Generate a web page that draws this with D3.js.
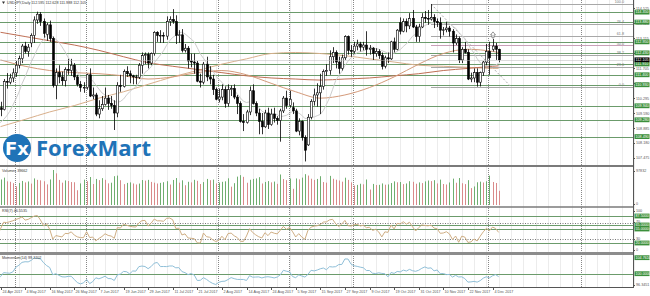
<!DOCTYPE html>
<html>
  <head>
    <script src="https://cdnjs.cloudflare.com/ajax/libs/d3/7.8.5/d3.min.js"></script>
    <style>
      body { margin: 0; background: #fff; }
      svg { display: block; font-family: "Liberation Sans", Arial, sans-serif; }
    </style>
  </head>
  <body>
    <svg id="chart" width="650" height="296"></svg>
    <script>
      // USDJPY daily, 21 Apr 2017 .. 6 Dec 2017 (bar 0 = 21 Apr)
      const opens = [
        109.35, 109.85, 109.76, 111.08, 111.05, 111.25,
        111.49, 111.85, 112.16, 112.75, 112.50,
        112.90, 113.25, 113.98, 114.25, 113.90,
        113.30, 113.75, 113.10, 110.90, 111.50,
        111.30, 111.12, 111.65, 111.60, 111.85,
        111.30, 110.95, 110.80, 110.80, 111.40,
        110.40, 110.45, 109.55, 109.80, 110.00,
        110.30, 110.05, 109.95, 109.60, 110.90,
        110.85, 111.55, 111.45, 111.35, 111.30,
        111.28, 111.85, 112.30, 112.35, 111.95,
        112.40, 113.40, 113.25, 113.25, 113.22,
        113.90, 114.00, 113.90, 113.25, 113.28,
        112.55, 112.65, 112.05, 112.00, 111.95,
        111.10, 111.05, 111.90, 111.30, 111.20,
        110.70, 110.25, 110.35, 110.70, 110.05,
        110.70, 110.75, 110.35, 110.05, 109.20,
        109.15, 109.65, 110.65, 110.05, 109.60,
        109.20, 108.95, 109.60, 109.05, 109.55,
        109.35, 109.25, 109.70, 110.30, 109.95,
        109.85, 109.70, 108.75, 109.20, 108.45,
        108.10, 109.40, 110.15, 110.45, 110.55,
        110.85, 111.55, 111.60, 112.25, 112.45,
        112.00, 111.70, 112.20, 113.20, 112.55,
        112.50, 112.75, 112.85, 112.70, 112.80,
        112.60, 112.65, 112.40, 112.50, 112.30,
        111.80, 112.20, 112.15, 112.95, 112.60,
        113.85, 113.45, 113.90, 113.70, 114.05,
        113.65, 113.20, 113.65, 114.10, 114.05,
        114.02, 114.10, 113.90, 113.85, 113.50,
        113.52, 113.60, 113.45, 112.90, 113.10,
        112.10, 112.60, 112.45, 111.20, 111.25,
        111.50, 111.05, 111.50, 112.00, 112.50,
        112.60, 112.75, 112.595
      ];
      const highs = [
        109.60, 110.13, 111.20, 111.48, 111.45, 111.70,
        112.05, 112.30, 112.85, 112.95, 112.85,
        113.35, 114.15, 114.37, 114.35, 114.05,
        113.85, 113.95, 113.20, 111.70, 111.85,
        111.55, 111.75, 112.15, 112.15, 111.95,
        111.40, 111.10, 111.05, 111.45, 111.70,
        110.80, 110.55, 110.20, 110.40, 110.80,
        110.45, 110.40, 110.20, 111.05, 111.40,
        111.65, 111.80, 111.60, 111.40, 111.40,
        111.95, 112.45, 112.45, 112.45, 112.45,
        113.45, 113.45, 113.50, 113.40, 114.15,
        114.15, 114.49, 114.20, 113.50, 113.55,
        112.85, 112.75, 112.40, 112.40, 112.05,
        111.45, 112.00, 112.25, 111.80, 111.40,
        110.80, 110.75, 110.95, 110.85, 110.95,
        110.90, 110.95, 110.45, 110.15, 109.55,
        109.75, 110.85, 110.95, 110.15, 109.80,
        109.60, 109.75, 109.85, 109.80, 109.85,
        109.45, 109.80, 110.40, 110.65, 110.65,
        110.10, 109.80, 109.35, 109.25, 108.55,
        109.55, 110.25, 110.75, 111.00, 111.45,
        111.65, 111.90, 112.55, 112.70, 112.55,
        112.25, 112.35, 113.26, 113.25, 112.80,
        112.95, 113.05, 112.95, 112.95, 113.45,
        112.80, 112.70, 112.65, 112.60, 112.45,
        112.30, 112.45, 113.00, 113.15, 113.55,
        114.10, 114.05, 114.05, 114.30, 114.45,
        113.75, 113.80, 114.30, 114.40, 114.45,
        114.73, 114.25, 114.05, 114.10, 113.65,
        113.90, 113.70, 113.55, 113.30, 113.20,
        112.70, 112.95, 112.60, 111.50, 111.70,
        111.70, 111.55, 112.05, 112.85, 112.95,
        113.09, 112.90, 112.628
      ];
      const lows = [
        108.85, 109.45, 109.72, 110.75, 110.95, 111.05,
        111.30, 111.70, 111.95, 112.40, 112.25,
        112.70, 112.90, 113.80, 113.70, 113.15,
        113.00, 112.95, 110.80, 110.25, 111.00,
        110.90, 110.85, 111.40, 111.35, 111.15,
        110.85, 110.60, 110.55, 110.70, 110.35,
        110.25, 109.45, 109.35, 109.70, 109.95,
        109.75, 109.80, 108.80, 109.40, 110.60,
        110.80, 111.30, 111.00, 110.95, 110.95,
        111.20, 111.45, 111.90, 111.70, 111.85,
        112.30, 112.95, 112.90, 112.90, 113.05,
        113.70, 113.80, 112.85, 112.90, 112.45,
        112.45, 111.70, 111.75, 111.45, 111.05,
        110.80, 110.95, 111.10, 110.95, 110.45,
        110.20, 110.10, 110.20, 109.85, 109.90,
        110.40, 110.25, 109.55, 109.15, 108.75,
        109.10, 109.50, 110.00, 109.45, 108.60,
        108.60, 108.90, 108.85, 109.00, 109.15,
        109.05, 108.25, 109.60, 109.80, 109.85,
        109.55, 108.70, 108.55, 108.30, 107.32,
        108.05, 109.30, 109.95, 109.90, 109.55,
        110.70, 111.35, 111.40, 111.95, 111.70,
        111.45, 111.60, 112.10, 112.35, 112.25,
        112.40, 112.55, 112.50, 112.55, 112.30,
        112.35, 112.10, 112.25, 112.15, 111.65,
        111.70, 111.95, 112.10, 112.45, 112.55,
        113.30, 113.40, 113.40, 113.55, 113.60,
        112.95, 112.95, 113.60, 113.85, 113.75,
        113.95, 113.60, 113.65, 113.10, 113.25,
        113.40, 113.20, 112.45, 112.80, 111.95,
        111.95, 112.40, 111.15, 111.05, 111.05,
        110.84, 110.85, 111.35, 111.85, 111.40,
        112.50, 112.10, 111.988
      ];
      const closes = [
        109.08, 109.76, 111.08, 111.05, 111.25, 111.49,
        111.85, 112.16, 112.75, 112.50, 112.70,
        113.25, 113.98, 114.25, 113.90, 113.35,
        113.75, 113.10, 110.90, 111.50, 111.30,
        111.12, 111.65, 111.60, 111.85, 111.30,
        110.95, 110.80, 110.80, 111.40, 110.40,
        110.45, 109.55, 109.80, 110.00, 110.30,
        110.05, 109.95, 109.60, 110.90, 110.85,
        111.55, 111.45, 111.35, 111.30, 111.28,
        111.85, 112.30, 112.35, 111.95, 112.40,
        113.40, 113.25, 113.25, 113.22, 113.90,
        114.00, 113.90, 113.25, 113.28, 112.55,
        112.65, 112.05, 112.00, 111.95, 111.10,
        111.05, 111.90, 111.30, 111.20, 110.70,
        110.25, 110.35, 110.70, 110.05, 110.70,
        110.75, 110.35, 110.05, 109.20, 109.15,
        109.65, 110.65, 110.05, 109.60, 109.20,
        108.95, 109.60, 109.05, 109.55, 109.35,
        109.25, 109.70, 110.30, 109.95, 110.25,
        109.70, 108.75, 109.20, 108.45, 107.85,
        109.40, 110.15, 110.45, 110.55, 110.85,
        111.55, 111.60, 112.25, 112.45, 112.00,
        111.70, 112.20, 113.20, 112.55, 112.50,
        112.75, 112.85, 112.70, 112.80, 112.60,
        112.65, 112.40, 112.50, 112.30, 111.80,
        112.20, 112.15, 112.95, 112.60, 113.50,
        113.45, 113.90, 113.70, 114.05, 113.65,
        113.20, 113.65, 114.10, 114.05, 114.02,
        114.10, 113.90, 113.85, 113.50, 113.52,
        113.60, 113.45, 112.90, 113.10, 112.10,
        112.60, 112.45, 111.20, 111.25, 111.50,
        111.05, 111.50, 112.00, 112.50, 112.20,
        112.75, 112.60, 112.105
      ];
      // closes before 21 Apr, only used to warm up the indicators
      const priorCloses = [
        110.64, 111.24, 111.05, 111.96, 111.39, 110.87, 110.72, 110.73,
        110.80, 111.09, 110.92, 109.73, 109.40, 109.08, 108.64, 108.88,
        108.93, 108.80, 109.30
      ];
      const volumes = [
        58210, 71340, 76520, 66210, 64880, 60930,
        52140, 61380, 67250, 63120, 65740,
        59870, 74310, 70250, 68940, 66380,
        57620, 71480, 97832, 88460, 70120,
        62410, 68750, 66980, 64120, 63580,
        41250, 60320, 70840, 66510, 78230,
        58630, 72840, 69510, 75120, 70380,
        60470, 62310, 80540, 82160, 69240,
        58320, 61780, 63240, 60150, 57390,
        59880, 69740, 68120, 70230, 64510,
        62390, 60140, 61850, 63720, 66490,
        57210, 69980, 75360, 62480, 68970,
        55230, 64880, 63150, 70420, 67530,
        58760, 63990, 72840, 69350, 71020,
        60310, 62570, 64820, 66170, 74630,
        51240, 60980, 79310, 83420, 78650,
        62180, 70450, 72960, 74230, 77810,
        60120, 64380, 66830, 63270, 65490,
        59140, 85320, 72510, 69480, 73960,
        45320, 74280, 71690, 76540, 86210,
        82310, 73450, 70160, 72840, 80520,
        64130, 62470, 81380, 73290, 70640,
        68420, 65230, 76310, 70150, 63280,
        54360, 56180, 59420, 57830, 71260,
        43210, 58960, 55740, 56380, 60290,
        56720, 57480, 61350, 66120, 63480,
        64210, 58390, 60170, 66540, 64820,
        59460, 63180, 61270, 65930, 68410,
        66820, 69350, 60240, 70960, 58730,
        57310, 62940, 73680, 62150, 75420,
        60850, 58420, 69370, 47250, 51830,
        63480, 65210, 62940, 66280, 82150,
        64310, 61580, 39662
      ];

      // slow moving averages, one value every 8 bars (bars 1, 9, ... 161, 163)
      const maBars = [1, 9, 17, 25, 33, 41, 49, 57, 65, 73, 81, 89, 97, 105, 113, 121, 129, 137, 145, 153, 161, 163];
      const ma200 = [108.96, 109.3, 109.65, 109.95, 110.3, 110.6, 110.95, 111.3, 111.6, 111.9, 112.15, 112.4, 112.45, 112.4, 112.3, 112.15, 112.0, 111.85, 111.8, 111.75, 111.7, 111.7];
      const ma100 = [113.4, 113.2, 113.0, 112.8, 112.55, 112.25, 111.97, 111.8, 111.65, 111.5, 111.35, 111.25, 111.2, 111.15, 111.2, 111.25, 111.35, 111.45, 111.6, 111.7, 111.8, 111.82];
      const ma50 = [112.1, 111.8, 111.6, 111.5, 111.45, 111.35, 111.2, 111.3, 111.5, 111.6, 111.4, 111.0, 110.6, 110.3, 110.45, 110.8, 111.3, 111.9, 112.4, 112.6, 112.5, 112.45];
      const fastPeriod = 10;

      // horizontal support / resistance lines
      const levels = [114.35, 113.88, 112.95, 112.43, 111.91, 111.40, 110.93, 109.94, 109.28, 108.49];
      const fibHigh = { bar: 141, price: 114.73 };
      const fibLow = { bar: 167, price: 110.84 };
      const fibRatios = [0, 23.6, 38.2, 50.0, 61.8, 76.4, 100.0];

      const priceTicks = [107.475, 108.18, 108.885, 109.59, 110.295, 111.0, 111.705, 112.41, 113.115, 113.82, 114.525];
      const rsiLevels = [87.5, 65.0, 55.0, 20.0];
      const momLevel = 100.0;
      const dateLabels = [
        "24 Apr 2017", "4 May 2017", "16 May 2017", "26 May 2017", "7 Jun 2017",
        "19 Jun 2017", "29 Jun 2017", "11 Jul 2017", "21 Jul 2017", "2 Aug 2017",
        "14 Aug 2017", "24 Aug 2017", "5 Sep 2017", "15 Sep 2017", "27 Sep 2017",
        "9 Oct 2017", "19 Oct 2017", "31 Oct 2017", "10 Nov 2017", "22 Nov 2017",
        "4 Dec 2017"
      ];
      // dotted vertical separators (bar index)
      const sepBars = [6, 29, 72, 95, 116, 160, 190];

      const rsiPeriod = 7;
      const momPeriod = 14;

      const svg = d3.select("#chart");
      const plotR = 633;
      const green = "#6b9b6b";
      const axisText = "#555";
      const fs = 3.7;

      const x = d3.scaleLinear().domain([1, 161]).range([0.5, 492.5]);
      const yP = d3.scaleLinear().domain([107.2, 114.92]).range([164, 0]);
      const yV = d3.scaleLinear().domain([0, 97832]).range([205, 170]);
      const yR = d3.scaleLinear().domain([0, 100]).range([251, 211]);

      // indicators computed from the closes
      const allCloses = priorCloses.concat(closes);
      const off = priorCloses.length;
      const rsi = [];
      let ag = 0, al = 0;
      for (let k = 1; k < allCloses.length; k++) {
        const ch = allCloses[k] - allCloses[k - 1];
        const g = Math.max(ch, 0), l = Math.max(-ch, 0);
        if (k <= rsiPeriod) { ag += g / rsiPeriod; al += l / rsiPeriod; }
        else { ag = (ag * (rsiPeriod - 1) + g) / rsiPeriod; al = (al * (rsiPeriod - 1) + l) / rsiPeriod; }
        if (k - off >= 0) rsi[k - off] = al === 0 ? 100 : 100 - 100 / (1 + ag / al);
      }
      const mom = closes.map((c, i) => (c / allCloses[i + off - momPeriod]) * 100);
      const smaFast = closes.map((c, i) => d3.mean(allCloses.slice(i + off - fastPeriod + 1, i + off + 1)));
      const momMin = 96.3451;
      const momMax = d3.max(mom.slice(1)) + 0.2;
      const yM = d3.scaleLinear().domain([momMin, momMax]).range([286, 257]);

      const defs = svg.append("defs");
      const clip = (id, y0, y1) =>
        defs.append("clipPath").attr("id", id).append("rect")
          .attr("x", 0).attr("y", y0).attr("width", plotR).attr("height", y1 - y0);
      clip("cMain", 0, 165);
      clip("cVol", 168, 206);
      clip("cRsi", 208, 252);
      clip("cMom", 255, 287);

      // light vertical grid
      const grid = svg.append("g");
      grid.selectAll("line.g")
        .data(d3.range(-1, 210, 4))
        .enter().append("line")
        .attr("x1", (d) => Math.round(x(d)) + 0.5).attr("x2", (d) => Math.round(x(d)) + 0.5)
        .attr("y1", 0).attr("y2", 287)
        .attr("stroke", "#ececec").attr("stroke-width", 1);

      grid.selectAll("line.m")
        .data(sepBars)
        .enter().append("line")
        .attr("x1", (d) => Math.round(x(d)) - 0.5).attr("x2", (d) => Math.round(x(d)) - 0.5)
        .attr("y1", 0).attr("y2", 287)
        .attr("stroke", "#888").attr("stroke-dasharray", "1,1");

      // ---- main panel ----
      const main = svg.append("g").attr("clip-path", "url(#cMain)");

      main.selectAll("line.lvl")
        .data(levels)
        .enter().append("line")
        .attr("x1", 0).attr("x2", plotR)
        .attr("y1", (d) => Math.round(yP(d)) + 0.5).attr("y2", (d) => Math.round(yP(d)) + 0.5)
        .attr("stroke", green).attr("stroke-width", 1);

      // fibonacci
      const fibPrice = (r) => fibLow.price + (fibHigh.price - fibLow.price) * r / 100;
      main.selectAll("line.fib")
        .data(fibRatios)
        .enter().append("line")
        .attr("x1", x(fibHigh.bar)).attr("x2", plotR)
        .attr("y1", (d) => Math.round(yP(fibPrice(d))) + 0.5).attr("y2", (d) => Math.round(yP(fibPrice(d))) + 0.5)
        .attr("stroke", (d) => (d === 50 ? "#c9a0b8" : "#a8a8a8")).attr("stroke-width", 1);
      main.selectAll("text.fib")
        .data(fibRatios)
        .enter().append("text")
        .attr("x", 624).attr("y", (d) => yP(fibPrice(d)) - 0.8)
        .attr("text-anchor", "end").attr("font-size", fs).attr("fill", "#777")
        .text((d) => d.toFixed(1));
      main.append("line")
        .attr("x1", x(fibHigh.bar)).attr("y1", yP(fibHigh.price))
        .attr("x2", x(fibLow.bar)).attr("y2", yP(fibLow.price))
        .attr("stroke", "#aaa").attr("stroke-dasharray", "2,2");

      // moving averages
      const maLine = d3.line().x((d) => x(d[0])).y((d) => yP(d[1])).curve(d3.curveMonotoneX);
      [[ma200, "#d9b08c"], [ma100, "#bf6f55"], [ma50, "#d49a7a"]].forEach(([vals, col]) => {
        main.append("path")
          .attr("d", maLine(maBars.map((b, k) => [b, vals[k]])))
          .attr("fill", "none").attr("stroke", col).attr("stroke-width", 1);
      });
      main.append("path")
        .attr("d", d3.line().x((d, i) => x(i)).y((d) => yP(d))(smaFast))
        .attr("fill", "none").attr("stroke", "#cdcdcd").attr("stroke-width", 1);

      // candles
      const bars = d3.range(closes.length);
      const cg = main.append("g");
      cg.selectAll("line.wick")
        .data(bars)
        .enter().append("line")
        .attr("x1", (i) => Math.round(x(i)) + 0.5).attr("x2", (i) => Math.round(x(i)) + 0.5)
        .attr("y1", (i) => yP(highs[i])).attr("y2", (i) => yP(lows[i]))
        .attr("stroke", "#000").attr("stroke-width", 0.8);
      cg.selectAll("rect.body")
        .data(bars)
        .enter().append("rect")
        .attr("x", (i) => Math.round(x(i)) - 0.5)
        .attr("width", 2)
        .attr("y", (i) => yP(Math.max(opens[i], closes[i])))
        .attr("height", (i) => Math.max(0.6, Math.abs(yP(opens[i]) - yP(closes[i]))))
        .attr("fill", (i) => (closes[i] >= opens[i] ? "#fff" : "#000"))
        .attr("stroke", "#000").attr("stroke-width", 0.6);

      // fractal arrow above 4 Dec
      main.append("path")
        .attr("d", `M${x(161) + 0.5},${yP(highs[161]) - 7} l-2.5,3 h1.5 v3 h2 v-3 h1.5 z`)
        .attr("fill", "#fff").attr("stroke", "#555").attr("stroke-width", 0.6);

      // current price line
      main.append("line")
        .attr("x1", 0).attr("x2", plotR)
        .attr("y1", Math.round(yP(closes[closes.length - 1])) + 0.5)
        .attr("y2", Math.round(yP(closes[closes.length - 1])) + 0.5)
        .attr("stroke", "#bbb").attr("stroke-width", 0.5);

      // ---- volumes ----
      svg.append("g").attr("clip-path", "url(#cVol)")
        .selectAll("line")
        .data(bars)
        .enter().append("line")
        .attr("x1", (i) => Math.round(x(i)) + 0.5).attr("x2", (i) => Math.round(x(i)) + 0.5)
        .attr("y1", yV(0)).attr("y2", (i) => yV(volumes[i]))
        .attr("stroke", (i) => (i > 0 && volumes[i] < volumes[i - 1] ? "#d98a8a" : "#6fae6f"))
        .attr("stroke-width", 1);

      // ---- RSI ----
      const rg = svg.append("g").attr("clip-path", "url(#cRsi)");
      rg.selectAll("line.lv")
        .data(rsiLevels)
        .enter().append("line")
        .attr("x1", 0).attr("x2", plotR)
        .attr("y1", (d) => Math.round(yR(d)) + 0.5).attr("y2", (d) => Math.round(yR(d)) + 0.5)
        .attr("stroke", green);
      rg.selectAll("line.dl")
        .data([70, 30])
        .enter().append("line")
        .attr("x1", 0).attr("x2", plotR)
        .attr("y1", (d) => Math.round(yR(d)) + 0.5).attr("y2", (d) => Math.round(yR(d)) + 0.5)
        .attr("stroke", "#777").attr("stroke-dasharray", "1,1.5");
      rg.append("path")
        .attr("d", d3.line().x((d, i) => x(i)).y((d) => yR(d))(rsi))
        .attr("fill", "none").attr("stroke", "#cfae84").attr("stroke-width", 1);

      // ---- Momentum ----
      const mg = svg.append("g").attr("clip-path", "url(#cMom)");
      mg.append("line")
        .attr("x1", 0).attr("x2", plotR)
        .attr("y1", Math.round(yM(momLevel)) + 0.5).attr("y2", Math.round(yM(momLevel)) + 0.5)
        .attr("stroke", green);
      mg.append("path")
        .attr("d", d3.line().x((d, i) => x(i)).y((d) => yM(d))(mom))
        .attr("fill", "none").attr("stroke", "#8fbfd8").attr("stroke-width", 1);

      // ---- separators and frame ----
      const sep = (y, w, c) => svg.append("line").attr("x1", 0).attr("x2", plotR + 0.5)
        .attr("y1", y).attr("y2", y).attr("stroke", c).attr("stroke-width", w);
      sep(166, 2, "#7a7a7a");
      sep(207, 1.5, "#7a7a7a");
      sep(253.5, 3, "#8c8c8c");
      sep(287.5, 1, "#555");
      svg.append("line").attr("x1", plotR + 0.5).attr("x2", plotR + 0.5)
        .attr("y1", 0).attr("y2", 288).attr("stroke", "#555");

      // ---- right axis labels ----
      const ax = svg.append("g").attr("font-size", fs).attr("fill", axisText);
      const tick = (y, label) => {
        ax.append("line").attr("x1", plotR).attr("x2", plotR + 2)
          .attr("y1", Math.round(y) + 0.5).attr("y2", Math.round(y) + 0.5).attr("stroke", "#555");
        ax.append("text").attr("x", plotR + 3).attr("y", y + 1.3).text(label);
      };
      priceTicks.forEach((p) => tick(yP(p), p.toFixed(3)));
      tick(171, "97832");
      tick(204, "0");
      tick(211, "100");
      tick(yR(70) - 1, "70");
      tick(yR(30), "30");
      tick(250, "0");
      tick(285, momMin.toFixed(4));

      const box = (y, label, fill) => {
        ax.append("rect").attr("x", plotR + 1.5).attr("y", y - 2.4).attr("width", 15).attr("height", 4.8).attr("fill", fill);
        ax.append("text").attr("x", plotR + 2.5).attr("y", y + 1.3).attr("fill", "#fff").text(label);
      };
      levels.forEach((p) => box(yP(p), p.toFixed(3), "#3b8f3b"));
      box(yP(closes[closes.length - 1]), closes[closes.length - 1].toFixed(3), "#000");
      rsiLevels.forEach((v) => box(yR(v), v.toFixed(4), "#3b8f3b"));
      box(yM(momMax - 0.2), (momMax - 0.2).toFixed(4), "#3b8f3b");
      box(yM(momLevel), momLevel.toFixed(4), "#3b8f3b");

      // ---- date axis ----
      const dg = svg.append("g").attr("font-size", fs).attr("fill", axisText);
      dateLabels.forEach((lab, k) => {
        const xi = Math.round(x(1 + k * 8)) + 0.5;
        dg.append("line").attr("x1", xi).attr("x2", xi).attr("y1", 287).attr("y2", 290).attr("stroke", "#555");
        dg.append("text").attr("x", xi + 1).attr("y", 293).text(lab);
      });

      // ---- panel titles ----
      const last = closes.length - 1;
      const tg = svg.append("g").attr("font-size", fs).attr("fill", "#333");
      tg.append("path").attr("d", "M2,1.5 l3,0 l-1.5,2.5 z").attr("fill", "#333");
      tg.append("text").attr("x", 7).attr("y", 4)
        .text(`USDJPY,Daily  ${opens[last].toFixed(3)} ${highs[last].toFixed(3)} ${lows[last].toFixed(3)} ${closes[last].toFixed(3)}`);
      tg.append("text").attr("x", 2).attr("y", 172).text(`Volumes ${volumes[last]}`);
      tg.append("text").attr("x", 2).attr("y", 212).text(`RSI(${rsiPeriod}) ${rsi[last].toFixed(4)}`);
      tg.append("text").attr("x", 2).attr("y", 259).text(`Momentum(${momPeriod}) ${mom[last].toFixed(4)}`);

      // ---- ForexMart logo ----
      const logo = svg.append("g");
      logo.append("circle").attr("cx", 17).attr("cy", 148).attr("r", 14).attr("fill", "#1f73b7");
      logo.append("text").attr("x", 17).attr("y", 155).attr("text-anchor", "middle")
        .attr("font-size", 18).attr("font-weight", "bold").attr("fill", "#fff")
        .attr("font-family", "'DejaVu Sans', sans-serif").text("Fx");
      logo.append("text").attr("x", 36).attr("y", 156)
        .attr("font-size", 22).attr("font-weight", "bold").attr("fill", "#1f73b7")
        .attr("font-family", "'Open Sans', 'DejaVu Sans', sans-serif").text("ForexMart");
    </script>
  </body>
</html>
